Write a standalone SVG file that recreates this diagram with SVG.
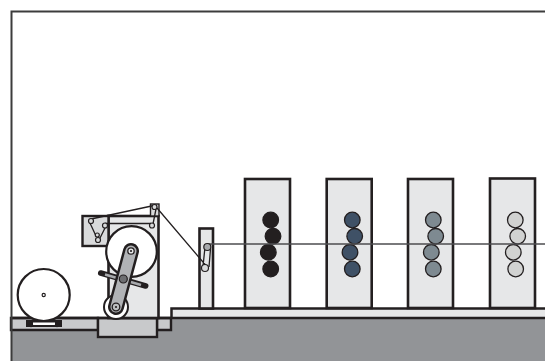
<svg xmlns="http://www.w3.org/2000/svg" width="545" height="361" viewBox="0 0 545 361">
<style>
.k{stroke:#231f20;stroke-width:2.500}
.u{fill:#e6e7e8;stroke:#231f20;stroke-width:2.600}
.f{fill:#c8c9cb;stroke:#231f20;stroke-width:2.400}
.w{fill:none;stroke:#231f20;stroke-width:1.300}
.r{fill:#d9dadb;stroke:#231f20;stroke-width:1.200}
.c{stroke:#231f20;stroke-width:1.300}
</style>
<rect width="545" height="361" fill="#fff"/>
<g id="floor">
<path d="M11 330H171V318H545V361H11Z" fill="#929497"/>
<path class="f" d="M11 318H98V330H11Z"/>
<path class="f" d="M157 318H171V330H157Z"/>
<rect class="f" x="98" y="318" width="59" height="19"/>
<path d="M172 318V308.500H545V318Z" fill="#e6e7e8"/>
<path class="k" fill="none" d="M11 318H171.500V308.500H545M172 318H545"/>
</g>
<g id="frame"><path d="M11.500 361V11.500H545" fill="none" stroke="#3c3c3c" stroke-width="2"/></g>
<g id="unwind-roll">
<rect x="26" y="320" width="36" height="7" fill="#231f20"/>
<rect x="33" y="322.500" width="22" height="2.500" fill="#fff"/>
<circle cx="31" cy="325" r="2.200" fill="#231f20"/><circle cx="57" cy="325" r="2.200" fill="#231f20"/>
<circle cx="43.700" cy="295" r="26" fill="#fff" stroke="#231f20" stroke-width="2.200"/>
<circle cx="43.700" cy="295" r="1.600" fill="#fff" stroke="#231f20" stroke-width="1.200"/>
</g>
<g id="infeed-tower">
<rect class="u" x="108.500" y="216" width="50" height="102"/>
<rect class="f" x="82.500" y="216" width="26" height="30" style="fill:#d9dadb"/>
<rect class="f" x="150.500" y="204" width="8.500" height="12" style="fill:#d9dadb;stroke-width:1.400"/>
<circle cx="131.500" cy="251.500" r="25.300" fill="#fff" stroke="#231f20" stroke-width="2.200"/>
</g>
<g id="arm">
<path d="M100.700 273L145.700 286" stroke="#231f20" stroke-width="5.500" stroke-linecap="round"/>
<path d="M105 274.500L141 285" stroke="#a7a9ac" stroke-width="2.600"/>
<circle cx="116" cy="307" r="12" fill="#fff" stroke="#231f20" stroke-width="2"/>
<path d="M131 251L116 307" stroke="#231f20" stroke-width="16" stroke-linecap="round"/>
<path d="M131 251L116 307" stroke="#b1b3b6" stroke-width="11" stroke-linecap="round"/>
<circle cx="131" cy="251" r="3.200" fill="#e6e7e8" stroke="#231f20" stroke-width="1.300"/>
<circle cx="116" cy="307" r="3.800" fill="#bcbec0" stroke="#231f20" stroke-width="1.300"/>
<circle cx="116" cy="307" r="1.100" fill="#231f20"/>
<circle cx="131" cy="251" r="1.100" fill="#231f20"/>
<circle cx="123.300" cy="279" r="4" fill="#6d6e71" stroke="#231f20" stroke-width="1.200"/>
</g>
<g id="guide-column">
<rect class="u" x="199.500" y="228.500" width="13.500" height="80"/>
</g>
<g id="unit-1">
<rect class="u" x="245" y="179" width="45" height="129"/>
<g fill="#231f20" class="c"><circle cx="270.700" cy="220" r="7.800"/><circle cx="273" cy="236.300" r="7.800"/><circle cx="268.300" cy="252.300" r="7.800"/><circle cx="270.700" cy="269" r="7.800"/></g>
</g>
<g id="unit-2">
<rect class="u" x="326.700" y="179" width="45" height="129"/>
<g fill="#3f5166" class="c"><circle cx="352.300" cy="220" r="7.800"/><circle cx="354.700" cy="236.300" r="7.800"/><circle cx="350" cy="252.300" r="7.800"/><circle cx="352.300" cy="269" r="7.800"/></g>
</g>
<g id="unit-3">
<rect class="u" x="408" y="179" width="45" height="129"/>
<g fill="#7e8a91" class="c"><circle cx="433.300" cy="220" r="7.800"/><circle cx="435.700" cy="236.300" r="7.800"/><circle cx="431.300" cy="252.300" r="7.800"/><circle cx="433.300" cy="269" r="7.800"/></g>
</g>
<g id="unit-4">
<rect class="u" x="490" y="178.500" width="45" height="129.500"/>
<g fill="#d1d2d1" class="c"><circle cx="515.300" cy="220" r="7.800"/><circle cx="517.700" cy="236.300" r="7.800"/><circle cx="513.300" cy="252.300" r="7.800"/><circle cx="515.700" cy="269" r="7.800"/></g>
</g>
<g id="connectors">
<path class="w" d="M154 205.500L91 219M89.500 222L96 236M99.500 239L106 226M105 223.500H151M153 224L156 209M157 208L205.500 265M203 266.500L205 247M209 267L210.500 249"/>
<path d="M207 244H545" fill="none" stroke="#4d4d4f" stroke-width="1.300"/>
</g>
<g id="rollers">
<circle class="r" cx="91" cy="221" r="2.500"/>
<circle class="r" cx="97.300" cy="235" r="2"/>
<circle class="r" cx="98" cy="240" r="2.500"/>
<circle class="r" cx="105" cy="225.500" r="2.500"/>
<circle class="r" cx="152" cy="225.500" r="2.500"/>
<circle class="r" cx="154.500" cy="207" r="2.500"/>
<circle class="r" cx="207.300" cy="247" r="3.500" style="fill:#a7a9ac"/>
<circle class="r" cx="205" cy="268" r="3.500"/>
</g>
</svg>
